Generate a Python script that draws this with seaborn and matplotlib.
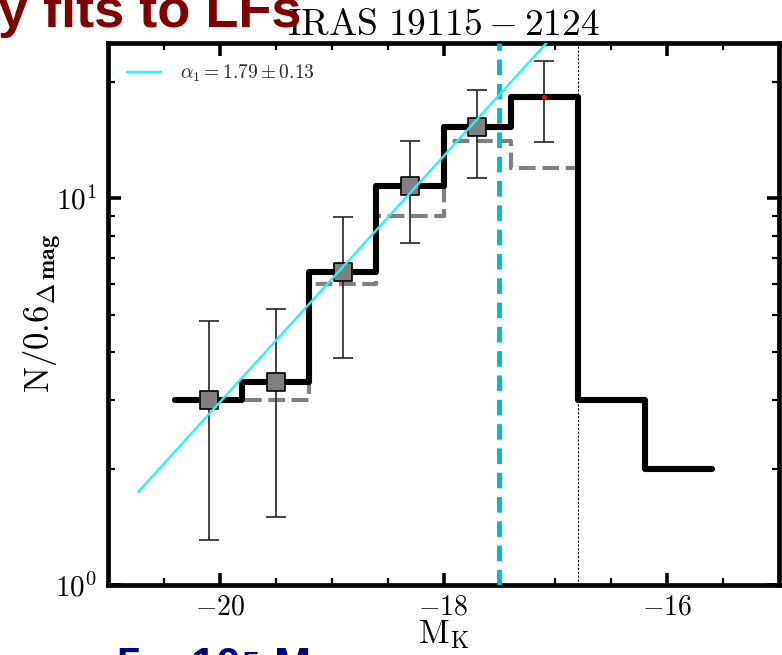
import numpy as np
import pandas as pd
import matplotlib
matplotlib.use("Agg")
import matplotlib.pyplot as plt
import seaborn as sns
from matplotlib.ticker import FixedLocator, FixedFormatter, MultipleLocator, NullFormatter

# K-band luminosity function, 0.6 mag bins
bin_edges = [-20.4, -19.8, -19.2, -18.6, -18.0, -17.4, -16.8, -16.2, -15.6]
bin_centers = [-20.1, -19.5, -18.9, -18.3, -17.7, -17.1, -16.5, -15.9]
counts_corrected = [3.0, 3.35, 6.45, 10.75, 15.3, 18.3, 3.0, 2.0]

# uncorrected counts (dashed), complete bins only
raw_edges = [-20.4, -19.8, -19.2, -18.6, -18.0, -17.4, -16.8]
raw_centers = [-20.1, -19.5, -18.9, -18.3, -17.7, -17.1]
counts_raw = [3.0, 3.0, 6.0, 9.0, 14.1, 12.0]

# points used in the power-law fit, with their error ranges
fit_pts_mag = [-20.1, -19.5, -18.9, -18.3, -17.7]
fit_pts_n = [3.0, 3.35, 6.45, 10.75, 15.3]
fit_pts_lo = [1.31, 1.50, 3.86, 7.65, 11.3]
fit_pts_hi = [4.81, 5.17, 8.93, 14.1, 19.1]

# bin excluded from the fit
excl_mag = [-17.1]
excl_n = [18.3]
excl_lo = [14.0]
excl_hi = [22.7]

# power-law fit line endpoints
fit_line_mag = [-20.73, -16.95]
fit_line_n = [1.74, 27.7]
fit_label = r"$\alpha_1 = 1.79 \pm 0.13$"

completeness_mag = -17.5
turnover_mag = -16.8

x_major = [-20, -18, -16]
x_major_labels = [r"$-20$", r"$-18$", r"$-16$"]
y_major = [1, 10]
y_major_labels = [r"$10^{0}$", r"$10^{1}$"]
y_minor = [2, 3, 4, 5, 6, 7, 8, 9, 20]

sns.set_theme(style="ticks")
plt.rcParams.update({
    "mathtext.fontset": "cm",
    "font.family": ["DejaVu Serif"],
})

fig = plt.figure(figsize=(7.82, 6.55), dpi=100)
ax = fig.add_axes([108 / 782, 1 - 585 / 655, (779 - 108) / 782, (585 - 43) / 655])
ax.set_yscale("log")

ax.axvline(turnover_mag, color="black", lw=0.8, ls=(0, (2, 1.5)), zorder=1)

sns.histplot(x=raw_centers, weights=counts_raw, bins=raw_edges, element="step",
             fill=False, color="#808080", linewidth=3, linestyle=(0, (4, 1.6)),
             ax=ax, zorder=2)
sns.histplot(x=bin_centers, weights=counts_corrected, bins=bin_edges, element="step",
             fill=False, color="black", linewidth=4.4, ax=ax, zorder=3)

ax.axvline(completeness_mag, color="#00BDBD", lw=3.5, ls=(0, (3.2, 1.8)), zorder=4)

pts = pd.DataFrame({"mag": fit_pts_mag, "n": fit_pts_n,
                    "lo": fit_pts_lo, "hi": fit_pts_hi})
ax.errorbar(pts["mag"], pts["n"], yerr=[pts["n"] - pts["lo"], pts["hi"] - pts["n"]],
            fmt="none", ecolor="#222222", elinewidth=1.2, capsize=7, capthick=1.2, zorder=5)
ax.errorbar(excl_mag, excl_n,
            yerr=[np.subtract(excl_n, excl_lo), np.subtract(excl_hi, excl_n)],
            fmt="none", ecolor="#222222", elinewidth=1.2, capsize=7, capthick=1.2, zorder=5)
sns.scatterplot(data=pts, x="mag", y="n", marker="s", s=175, color="#808080",
                edgecolor="black", linewidth=1.2, ax=ax, zorder=6)
sns.scatterplot(x=excl_mag, y=excl_n, marker="o", s=14, color="red",
                edgecolor="red", linewidth=0, ax=ax, zorder=6)

sns.lineplot(x=fit_line_mag, y=fit_line_n, color="#22F5F5", linewidth=1.7,
             label=fit_label, ax=ax, zorder=7)

ax.set_xlim(-21.0, -15.0)
ax.set_ylim(1.0, 25.2)

ax.xaxis.set_major_locator(FixedLocator(x_major))
ax.xaxis.set_major_formatter(FixedFormatter(x_major_labels))
ax.xaxis.set_minor_locator(MultipleLocator(0.5))
ax.xaxis.set_minor_formatter(NullFormatter())
ax.yaxis.set_major_locator(FixedLocator(y_major))
ax.yaxis.set_major_formatter(FixedFormatter(y_major_labels))
ax.yaxis.set_minor_locator(FixedLocator(y_minor))
ax.yaxis.set_minor_formatter(NullFormatter())

ax.tick_params(which="both", direction="in", top=True, right=True, colors="black",
               labelsize=21)
ax.tick_params(which="major", length=9, width=2.6, pad=8)
ax.tick_params(axis="x", which="major", pad=6, labelsize=20)
ax.tick_params(which="minor", length=5, width=1.6)
for sp in ax.spines.values():
    sp.set_linewidth(3.4)
    sp.set_color("black")
    sp.set_visible(True)

ax.set_title(r"$\mathrm{IRAS\ 19115-2124}$", fontsize=27, pad=3, color="black")
ax.set_xlabel(r"$\mathrm{M_K}$", fontsize=24, labelpad=-1.5, color="black")
ax.set_ylabel(r"$\mathrm{N/0.6_{\Delta\,\mathbf{mag}}}$", fontsize=25, labelpad=-6,
              color="black")

leg = ax.legend(loc="upper left", frameon=False, fontsize=14, handlelength=1.7,
                handletextpad=1.0, borderaxespad=0.6)

fig.text(302 / 782, 1 - 27 / 655, "y fits to LFs", ha="right", va="baseline",
         fontsize=39, fontweight="bold", family="Liberation Sans", color="#800000",
         zorder=10)
fig.text(-45 / 782, 1 - 679 / 655, "Mass ~ 5 x 10\u2075 M", ha="left", va="baseline",
         fontsize=32, fontweight="bold", family="Liberation Sans", color="#000080",
         zorder=10)

fig.savefig("out.png", dpi=100)
